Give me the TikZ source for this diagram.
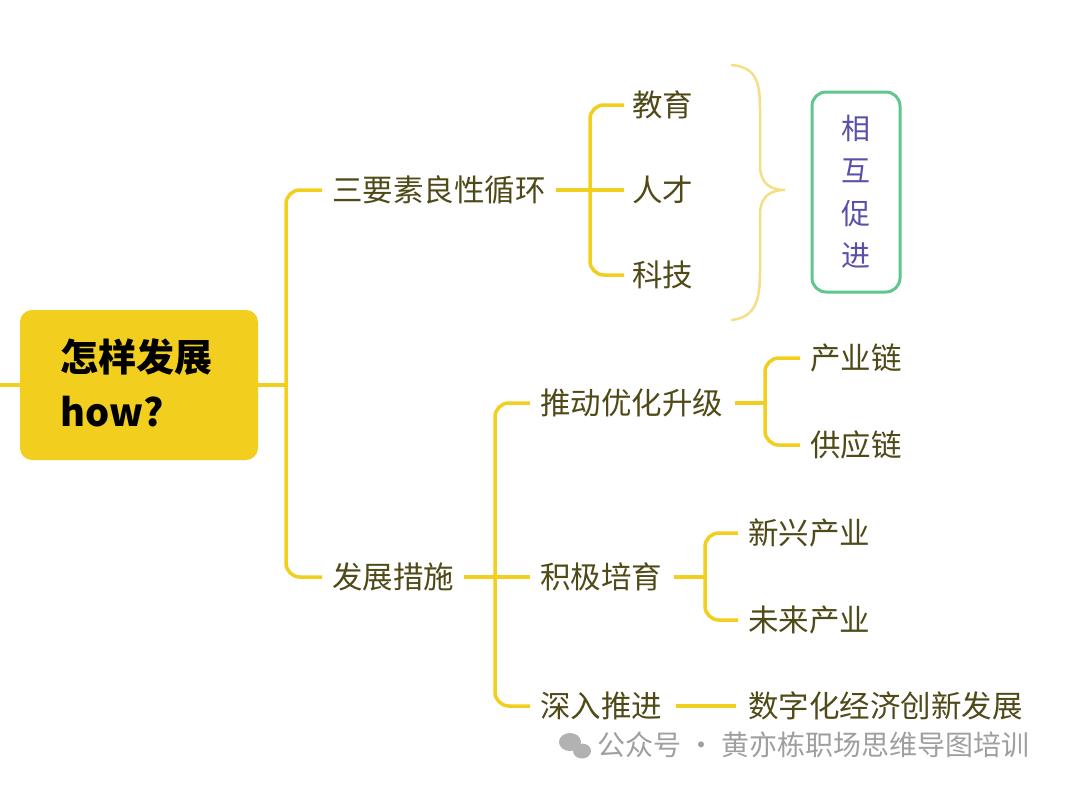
\documentclass[tikz,border=0pt]{standalone}
\usepackage{fontspec}
\setmainfont{Noto Sans CJK SC}
\usetikzlibrary{calc}
\definecolor{ln}{HTML}{F2CF1F}
\definecolor{br}{HTML}{F5DF85}
\definecolor{tx}{HTML}{4F4A18}
\definecolor{gr}{HTML}{5CC88C}
\definecolor{pu}{HTML}{5A50A8}
\begin{document}
\begin{tikzpicture}[x=1pt,y=-1pt,
  lbl/.style={text=tx,font=\fontsize{30.5}{34}\selectfont,anchor=west,inner sep=0pt},
  conn/.style={draw=ln,line width=3.5pt,rounded corners=14pt}]
\useasboundingbox (0,0) rectangle (1080,790);
\fill[white] (0,0) rectangle (1080,790);
% root
\node[fill=ln,rounded corners=12pt,minimum width=238pt,minimum height=150pt,inner sep=0pt] (root) at (139,385) {};
\node[anchor=west,text=black,font=\fontsize{38}{55}\selectfont\bfseries,align=left,inner sep=0pt] (rt) at (60,383) {怎样发展\\how?};
\coordinate (l0) at (0,385);
\draw[ln,line width=3.5pt] (l0) -- (root.west);
% level 1
\node[lbl] (a) at (332,190) {三要素良性循环};
\node[lbl] (b) at (332,577) {发展措施};
\draw[conn] (root.east) -- (286,385);
\draw[conn] ($(a.west)+(-10,0)$) -- (286,190) -- (286,577) -- ($(b.west)+(-10,0)$);
% group a
\node[lbl] (a1) at (632,105) {教育};
\node[lbl] (a2) at (632,190) {人才};
\node[lbl] (a3) at (632,275) {科技};
\draw[conn] ($(a.east)+(10,0)$) -- ($(a2.west)+(-8,0)$);
\draw[conn] ($(a1.west)+(-8,0)$) -- (590,105) -- (590,275) -- ($(a3.west)+(-8,0)$);
% brace
\draw[br,line width=2.5pt,line cap=round] (732,65) .. controls (762,68) and (760,90) .. (760,125)
  -- (760,165) .. controls (760,185) and (772,190) .. (785,190)
  .. controls (772,190) and (760,195) .. (760,215) -- (760,255)
  .. controls (760,290) and (762,316) .. (732,320);
\node[draw=gr,line width=3pt,rounded corners=14pt,minimum width=88pt,minimum height=200pt,text=pu,font=\fontsize{29}{42.5}\selectfont,align=center] (g) at (856,192) {相\\互\\促\\进};
% group b
\node[lbl] (b1) at (540,403) {推动优化升级};
\node[lbl] (b2) at (540,577) {积极培育};
\node[lbl] (b3) at (540,706) {深入推进};
\draw[conn] ($(b.east)+(10,0)$) -- ($(b2.west)+(-10,0)$);
\draw[conn] ($(b1.west)+(-10,0)$) -- (495,403) -- (495,706) -- ($(b3.west)+(-10,0)$);
\node[lbl] (c1) at (810,358) {产业链};
\node[lbl] (c2) at (810,445) {供应链};
\draw[conn] ($(b1.east)+(12,0)$) -- (765,403);
\draw[conn] ($(c1.west)+(-10,0)$) -- (765,358) -- (765,445) -- ($(c2.west)+(-10,0)$);
\node[lbl] (d1) at (748,533) {新兴产业};
\node[lbl] (d2) at (748,620) {未来产业};
\draw[conn] ($(b2.east)+(12,0)$) -- (705,577);
\draw[conn] ($(d1.west)+(-10,0)$) -- (705,533) -- (705,620) -- ($(d2.west)+(-10,0)$);
\node[lbl] (e1) at (748,706) {数字化经济创新发展};
\draw[conn] ($(b3.east)+(14,0)$) -- ($(e1.west)+(-12,0)$);
% watermark
\fill[gray!60] (570,742) ellipse (11pt and 9pt);
\fill[gray!60] (582,751) ellipse (9pt and 7.5pt);
\node[anchor=west,text=gray!75,font=\fontsize{28}{32}\selectfont,inner sep=0pt] (w) at (597,745) {公众号 · 黄亦栋职场思维导图培训};
\end{tikzpicture}
\end{document}
